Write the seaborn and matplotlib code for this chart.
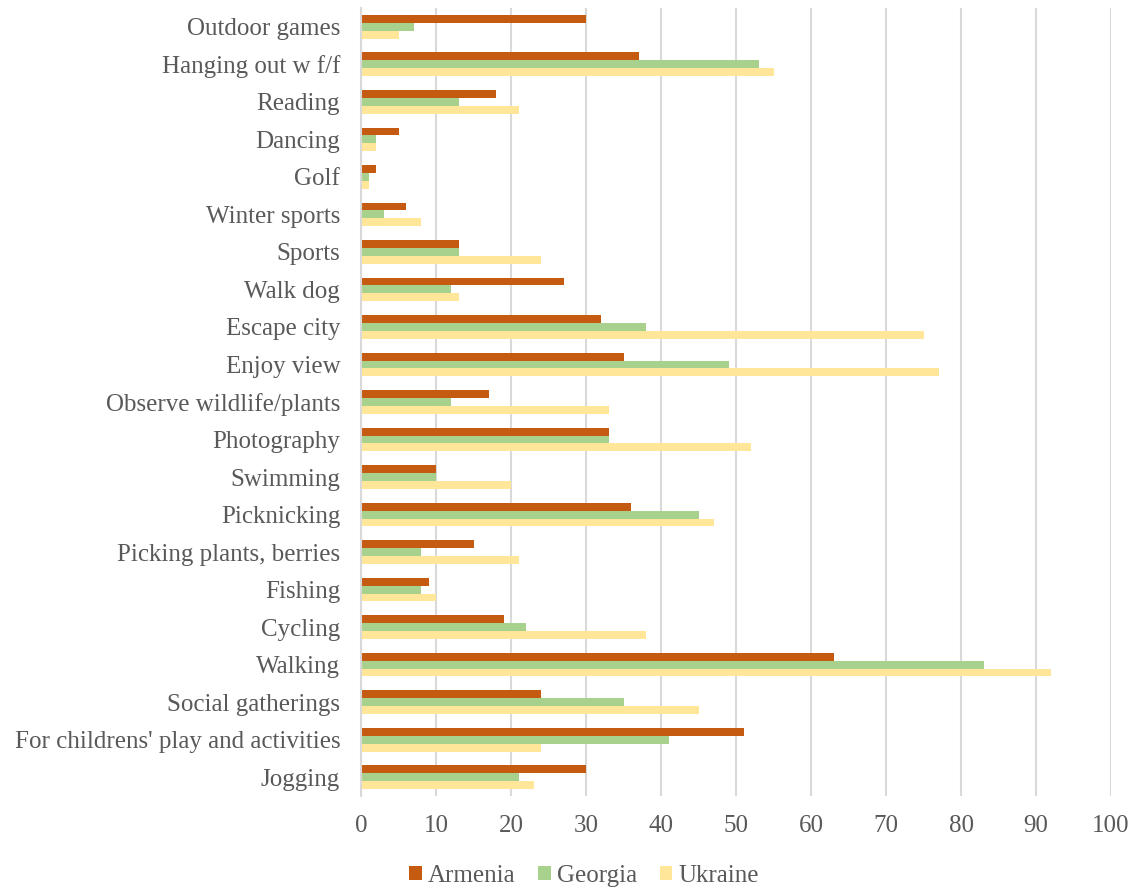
import matplotlib
matplotlib.use("Agg")
import matplotlib.pyplot as plt
import seaborn as sns
import pandas as pd
from matplotlib.patches import Patch

categories = ["Outdoor games", "Hanging out w f/f", "Reading", "Dancing", "Golf",
              "Winter sports", "Sports", "Walk dog", "Escape city", "Enjoy view",
              "Observe wildlife/plants", "Photography", "Swimming", "Picknicking",
              "Picking plants, berries", "Fishing", "Cycling", "Walking",
              "Social gatherings", "For childrens' play and activities", "Jogging"]
armenia = [30, 37, 18, 5, 2, 6, 13, 27, 32, 35, 17, 33, 10, 36, 15, 9, 19, 63, 24, 51, 30]
georgia = [7, 53, 13, 2, 1, 3, 13, 12, 38, 49, 12, 33, 10, 45, 8, 8, 22, 83, 35, 41, 21]
ukraine = [5, 55, 21, 2, 1, 8, 24, 13, 75, 77, 33, 52, 20, 47, 21, 10, 38, 92, 45, 24, 23]
countries = ["Armenia", "Georgia", "Ukraine"]
colors = ["#C55A11", "#A9D18E", "#FFE699"]
xticks = [0, 10, 20, 30, 40, 50, 60, 70, 80, 90, 100]

rows = []
for country, vals in zip(countries, [armenia, georgia, ukraine]):
    for c, v in zip(categories, vals):
        rows.append({"Activity": c, "Country": country, "Value": v})
df = pd.DataFrame(rows)

sns.set_style("white")
plt.rcParams["font.family"] = ["Liberation Serif", "DejaVu Serif"]
text_color = "#595959"

fig = plt.figure(figsize=(11.33, 8.90), dpi=100)
ax = fig.add_axes([361/1133, 1-796/890, 750/1133, 788/890])
sns.barplot(data=df, y="Activity", x="Value", hue="Country", order=categories,
            hue_order=countries, palette=colors, width=0.63, orient="h",
            saturation=1, ax=ax, legend=False, linewidth=0)

ax.set_xlim(0, 100)
ax.set_ylim(len(categories) - 0.5, -0.5)
ax.set_xticks(xticks)
ax.set_xticklabels([str(t) for t in xticks])
ax.set_xlabel("")
ax.set_ylabel("")
ax.xaxis.grid(True, color="#D9D9D9", linewidth=1.5)
ax.yaxis.grid(False)
ax.set_axisbelow(True)
for s in ["top", "right", "bottom"]:
    ax.spines[s].set_visible(False)
ax.spines["left"].set_color("#D9D9D9")
ax.spines["left"].set_linewidth(1.5)
ax.tick_params(axis="y", length=0, pad=15, labelsize=18, labelcolor=text_color)
ax.tick_params(axis="x", length=0, pad=14, labelsize=18, labelcolor=text_color)

handles = [Patch(facecolor=c, edgecolor="none", label=n) for c, n in zip(colors, countries)]
leg = fig.legend(handles=handles, loc="center", bbox_to_anchor=(584/1133, 1-876/890),
                 ncol=3, frameon=False, fontsize=18, handlelength=0.5, handleheight=0.5,
                 handletextpad=0.25, columnspacing=0.9)
for t in leg.get_texts():
    t.set_color(text_color)

fig.savefig("out.png", dpi=100)
